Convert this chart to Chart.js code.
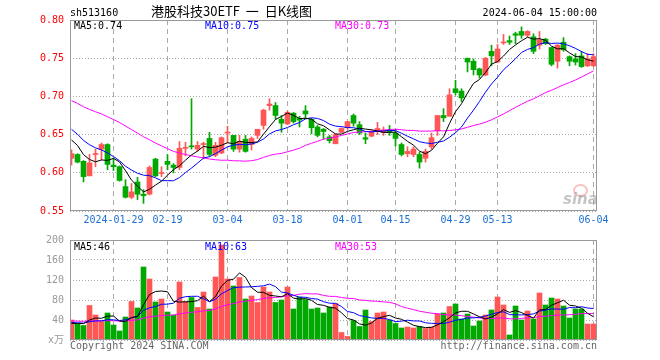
<!DOCTYPE html>
<html>
<head>
<meta charset="utf-8">
<script src="https://cdn.jsdelivr.net/npm/chart.js@4/dist/chart.umd.min.js"></script>
<style>
  body { margin: 0; background: #fff; width: 660px; height: 360px; position: relative; overflow: hidden;
         font-family: "DejaVu Sans Mono", monospace; font-size: 10px; }
  .t { position: absolute; white-space: nowrap; line-height: 12px; }
  #topBox { position: absolute; left: 0; top: 0; width: 660px; height: 228px; }
  #volBox { position: absolute; left: 0; top: 228px; width: 660px; height: 132px; }
</style>
</head>
<body>
<div id="topBox"><canvas id="priceChart" width="660" height="228"></canvas></div>
<div id="volBox"><canvas id="volChart" width="660" height="132"></canvas></div>

<div class="t" style="left:70px;top:7px;color:#000">sh513160</div>
<div class="t" style="left:151px;top:3px;font-family:'Noto Sans CJK SC',sans-serif;font-size:13px;line-height:16px;color:#000">港股科技30ETF&nbsp; 一&nbsp; 日K线图</div>
<div class="t" style="right:63px;top:7px;color:#000">2024-06-04 15:00:00</div>

<div class="t" style="left:74px;top:20px;color:#000">MA5:0.74</div>
<div class="t" style="left:205px;top:20px;color:#0000ff">MA10:0.75</div>
<div class="t" style="left:335px;top:20px;color:#ff00ff">MA30:0.73</div>

<div class="t" style="left:74px;top:241px;color:#000">MA5:46</div>
<div class="t" style="left:205px;top:241px;color:#0000ff">MA10:63</div>
<div class="t" style="left:335px;top:241px;color:#ff00ff">MA30:53</div>

<div class="t" style="left:70px;top:340px;color:#666">Copyright 2024 SINA.COM</div>
<div class="t" style="right:63px;top:340px;color:#666">http://finance.sina.com.cn</div>

<div style="position:absolute;left:573px;top:184px;width:11px;height:9px;border-radius:50%;border:2px solid rgba(240,120,120,0.45)"></div>
<div class="t" style="left:563px;top:191px;font-family:'DejaVu Sans',sans-serif;font-style:italic;font-weight:bold;font-size:15px;line-height:16px;color:rgba(150,150,150,0.55)">sina</div>

<script>
// trading days 2024-01-18 .. 2024-06-04
const dates = [
  '01-18','01-19','01-22','01-23','01-24','01-25','01-26','01-29','01-30','01-31',
  '02-01','02-02','02-05','02-06','02-07','02-08','02-19','02-20','02-21','02-22',
  '02-23','02-26','02-27','02-28','02-29','03-01','03-04','03-05','03-06','03-07',
  '03-08','03-11','03-12','03-13','03-14','03-15','03-18','03-19','03-20','03-21',
  '03-22','03-25','03-26','03-27','03-28','03-29','04-01','04-02','04-03','04-08',
  '04-09','04-10','04-11','04-12','04-15','04-16','04-17','04-18','04-19','04-22',
  '04-23','04-24','04-25','04-26','04-29','04-30','05-06','05-07','05-08','05-09',
  '05-10','05-13','05-14','05-15','05-16','05-17','05-20','05-21','05-22','05-23',
  '05-24','05-27','05-28','05-29','05-30','05-31','06-03','06-04'
];

const opens = [
  0.619,0.624,0.615,0.596,0.624,0.631,0.637,0.610,0.608,0.582,
  0.568,0.588,0.572,0.572,0.618,0.599,0.615,0.610,0.607,0.632,
  0.635,0.631,0.637,0.645,0.623,0.626,0.652,0.649,0.631,0.644,
  0.637,0.649,0.662,0.688,0.688,0.670,0.664,0.678,0.671,0.681,
  0.670,0.660,0.657,0.647,0.638,0.653,0.659,0.675,0.663,0.646,
  0.648,0.654,0.653,0.656,0.652,0.637,0.625,0.624,0.624,0.619,
  0.634,0.655,0.675,0.674,0.710,0.707,0.750,0.746,0.736,0.728,
  0.759,0.745,0.770,0.773,0.782,0.785,0.780,0.778,0.767,0.775,
  0.764,0.746,0.771,0.752,0.749,0.753,0.740,0.740
];
const highs = [
  0.630,0.625,0.616,0.624,0.631,0.639,0.638,0.619,0.609,0.591,
  0.586,0.594,0.578,0.609,0.619,0.608,0.624,0.612,0.641,0.640,
  0.697,0.641,0.640,0.653,0.640,0.647,0.661,0.649,0.649,0.649,
  0.647,0.657,0.683,0.697,0.692,0.675,0.681,0.679,0.674,0.688,
  0.671,0.662,0.658,0.649,0.651,0.659,0.667,0.677,0.667,0.652,
  0.655,0.666,0.660,0.662,0.657,0.639,0.634,0.634,0.627,0.631,
  0.652,0.675,0.684,0.710,0.721,0.710,0.750,0.749,0.737,0.751,
  0.767,0.768,0.781,0.779,0.784,0.791,0.786,0.782,0.785,0.776,
  0.764,0.768,0.777,0.753,0.756,0.759,0.756,0.756
];
const lows = [
  0.610,0.613,0.588,0.596,0.608,0.617,0.604,0.603,0.589,0.567,
  0.566,0.565,0.560,0.571,0.595,0.595,0.604,0.600,0.604,0.622,
  0.631,0.628,0.618,0.622,0.621,0.625,0.639,0.628,0.627,0.627,
  0.630,0.645,0.657,0.682,0.670,0.653,0.663,0.665,0.660,0.671,
  0.651,0.647,0.644,0.639,0.638,0.652,0.657,0.661,0.650,0.638,
  0.647,0.650,0.649,0.649,0.635,0.622,0.621,0.621,0.606,0.614,
  0.631,0.649,0.667,0.674,0.702,0.693,0.732,0.728,0.724,0.727,
  0.740,0.744,0.768,0.768,0.769,0.776,0.778,0.756,0.762,0.768,
  0.740,0.737,0.759,0.740,0.741,0.738,0.739,0.739
];
const closes = [
  0.625,0.614,0.595,0.613,0.625,0.637,0.611,0.608,0.590,0.568,
  0.575,0.572,0.570,0.607,0.596,0.600,0.611,0.607,0.632,0.633,
  0.634,0.636,0.638,0.624,0.636,0.646,0.653,0.631,0.641,0.628,
  0.645,0.657,0.682,0.690,0.675,0.665,0.679,0.667,0.669,0.677,
  0.659,0.649,0.654,0.642,0.650,0.658,0.667,0.665,0.652,0.644,
  0.654,0.658,0.656,0.653,0.645,0.624,0.628,0.631,0.614,0.628,
  0.646,0.675,0.672,0.702,0.705,0.698,0.745,0.735,0.728,0.750,
  0.753,0.762,0.771,0.771,0.780,0.780,0.785,0.759,0.774,0.769,
  0.742,0.767,0.761,0.746,0.745,0.739,0.749,0.752
];
// volume, x10k
const volumes = [
  40,32,29,69,50,37,54,30,18,46,
  77,64,146,122,76,82,56,50,116,77,
  85,65,96,62,126,190,122,108,125,82,
  88,75,106,96,75,80,106,62,86,81,
  62,64,54,66,73,15,7,39,27,60,
  37,54,56,40,33,24,26,24,27,23,
  26,52,54,67,72,42,52,28,38,50,
  60,86,70,10,68,40,58,42,94,70,
  84,82,68,44,62,62,32,32
];
// estimated history before the first visible day (feeds the moving averages)
const priorCloses = [
  0.725,0.725,0.720,0.715,0.720,0.725,0.715,0.710,0.705,0.715,
  0.710,0.715,0.720,0.725,0.715,0.720,0.715,0.695,0.690,0.685,
  0.680,0.675,0.670,0.665,0.665,0.650,0.655,0.645,0.640
];
const priorVolumes = [
  40,42,38,45,41,39,36,44,40,37,
  42,38,41,39,43,37,40,38,35,35,
  38,36,40,35,36,30,32,33,30
];

const xTickIdx = [7, 16, 26, 36, 46, 54, 64, 71, 87];
const priceTicks = [0.55, 0.60, 0.65, 0.70, 0.75, 0.80];
const volTicks = [0, 40, 80, 120, 160, 200];

const RED = '#ff5656';
const GREEN = '#00a800';
const FONT = {family: 'DejaVu Sans Mono', size: 10};

function movingAvg(series, prior, n) {
  const all = prior.concat(series);
  const off = prior.length;
  return series.map((_, i) => {
    let s = 0;
    for (let k = 0; k < n; k++) s += all[off + i - k];
    return s / n;
  });
}
const pts = arr => arr.map((v, i) => ({x: i, y: v}));
const upColors = closes.map((c, i) => c >= opens[i] ? RED : GREEN);

function tickLabel(v) {
  const i = Math.round(v);
  return i === xTickIdx[0] ? '2024-' + dates[i] : dates[i];
}

function xAxis(showLabels, h) {
  return {
    type: 'linear', min: -0.25, max: 87.5833, offset: false,
    afterBuildTicks: s => { s.ticks = xTickIdx.map(v => ({value: v})); },
    afterFit: s => { s.height = h; },
    grid: {color: '#aaa', lineWidth: 1, drawTicks: false, offset: false},
    border: {display: false, dash: [5, 4]},
    ticks: {display: showLabels, color: '#1c6fd6', font: FONT, padding: 3,
            maxRotation: 0, autoSkip: false, callback: v => tickLabel(v)}
  };
}

const framePlugin = {
  id: 'frame',
  afterDraw(chart) {
    const {ctx, chartArea: a} = chart;
    ctx.save();
    ctx.strokeStyle = '#999';
    ctx.lineWidth = 1;
    ctx.strokeRect(a.left + 0.5, a.top + 0.5, a.right - a.left - 1, a.bottom - a.top - 1);
    ctx.restore();
  }
};

function lineDs(data, color) {
  return {type: 'line', data: pts(data), borderColor: color, borderWidth: 1,
          pointRadius: 0, tension: 0, fill: false};
}

const ma5 = movingAvg(closes, priorCloses, 5);
const ma10 = movingAvg(closes, priorCloses, 10);
const ma30 = movingAvg(closes, priorCloses, 30);

new Chart(document.getElementById('priceChart'), {
  type: 'bar',
  data: {
    datasets: [
      lineDs(ma5, '#000'),
      lineDs(ma10, '#0000ff'),
      lineDs(ma30, '#ff00ff'),
      {data: opens.map((o, i) => ({x: i, y: [o, closes[i]]})), backgroundColor: upColors,
       barThickness: 5, grouped: false, minBarLength: 1},
      {data: lows.map((l, i) => ({x: i, y: [l, highs[i]]})), backgroundColor: upColors,
       barThickness: 1, grouped: false}
    ]
  },
  options: {
    responsive: false, animation: false,
    layout: {padding: {left: 0, right: 63, top: 20, bottom: 0}},
    plugins: {legend: {display: false}, tooltip: {enabled: false}},
    scales: {
      x: xAxis(true, 17),
      y: {
        min: 0.55, max: 0.80,
        afterBuildTicks: s => { s.ticks = priceTicks.map(v => ({value: v})); },
        afterFit: s => { s.width = 70; },
        grid: {color: '#aaa', drawTicks: false},
        border: {display: false, dash: [1, 2]},
        ticks: {color: '#ff0000', font: FONT, padding: 6, callback: v => v.toFixed(2)}
      }
    }
  },
  plugins: [framePlugin]
});

const vma5 = movingAvg(volumes, priorVolumes, 5);
const vma10 = movingAvg(volumes, priorVolumes, 10);
const vma30 = movingAvg(volumes, priorVolumes, 30);

new Chart(document.getElementById('volChart'), {
  type: 'bar',
  data: {
    datasets: [
      lineDs(vma5, '#000'),
      lineDs(vma10, '#0000ff'),
      lineDs(vma30, '#ff00ff'),
      {data: pts(volumes), backgroundColor: upColors, barThickness: 5, grouped: false}
    ]
  },
  options: {
    responsive: false, animation: false,
    layout: {padding: {left: 0, right: 63, top: 12, bottom: 0}},
    plugins: {legend: {display: false}, tooltip: {enabled: false}},
    scales: {
      x: xAxis(false, 20),
      y: {
        min: 0, max: 200,
        afterBuildTicks: s => { s.ticks = volTicks.map(v => ({value: v})); },
        afterFit: s => { s.width = 70; },
        grid: {color: '#aaa', drawTicks: false},
        border: {display: false, dash: [1, 2]},
        ticks: {color: '#999', font: {family: "'DejaVu Sans Mono','Noto Sans CJK SC'", size: 10}, padding: 6,
                callback: v => v === 0 ? 'x万' : String(v)}
      }
    }
  },
  plugins: [framePlugin]
});
</script>
</body>
</html>
